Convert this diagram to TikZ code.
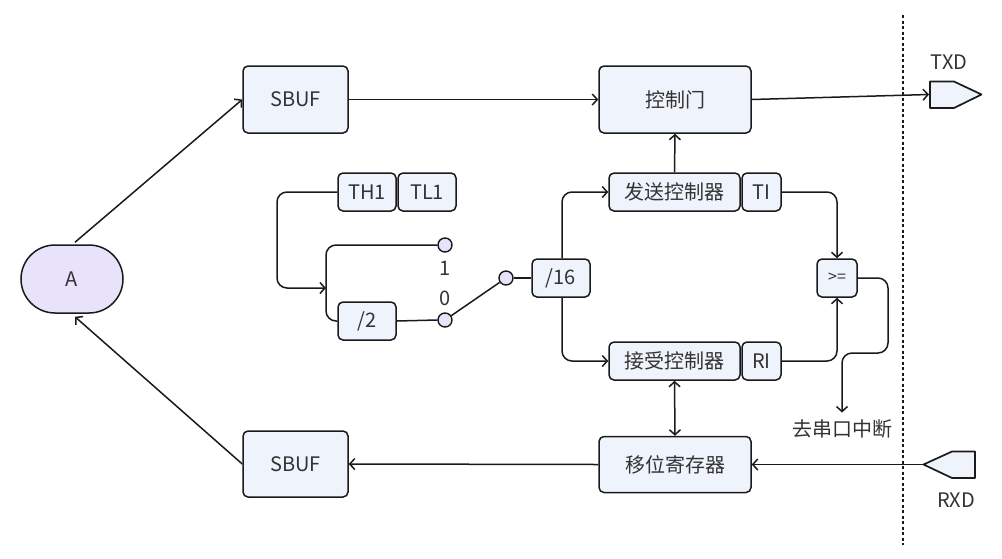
\documentclass[tikz,border=0pt]{standalone}
\usepackage{fontspec}
\setmainfont{Noto Sans CJK SC}
\usetikzlibrary{arrows.meta,calc}
\definecolor{boxc}{HTML}{EEF3FC}
\definecolor{lavc}{HTML}{E8E2FA}
\definecolor{linec}{HTML}{1A1A1A}
\definecolor{txtc}{HTML}{333333}
\tikzset{
  box/.style={draw=linec, fill=boxc, rounded corners=5pt, line width=1.5pt, inner sep=0pt, text=txtc, font=\fontsize{20}{23}\selectfont},
  dot/.style={circle, draw=linec, fill=lavc, line width=1.4pt, minimum size=14pt, inner sep=0pt},
  lbl/.style={text=txtc, font=\fontsize{20}{23}\selectfont, inner sep=1pt},
  conn/.style={draw=linec, line width=1.5pt, rounded corners=10pt},
  arr/.style={conn, -{Straight Barb[length=5pt,width=11pt,line width=1.5pt]}},
  darr/.style={conn, {Straight Barb[length=5pt,width=11pt,line width=1.5pt]}-{Straight Barb[length=5pt,width=11pt,line width=1.5pt]}},
}
\begin{document}
\begin{tikzpicture}[x=1pt,y=-1pt]
\useasboundingbox (0,0) rectangle (1002,558);
% dotted boundary
\draw[linec, line width=1.8pt, dash pattern=on 3pt off 2.5pt] (903,15) -- (903,545);
% nodes
\node[box, fill=lavc, rounded corners=34pt, minimum width=102pt, minimum height=68pt] (A) at (72,279) {A};
\node[box, minimum width=105pt, minimum height=67pt] (sbuf1) at (295.5,99.5) {SBUF};
\node[box, minimum width=152pt, minimum height=67pt] (gate) at (675,99.5) {控制门};
\node[box, minimum width=131pt, minimum height=38pt] (send) at (674.5,192) {发送控制器};
\node[box, minimum width=39pt, minimum height=38pt] (ti) at (761.5,192) {TI};
\node[box, minimum width=131pt, minimum height=38pt] (recv) at (674.5,361) {接受控制器};
\node[box, minimum width=39pt, minimum height=38pt] (ri) at (761.5,361) {RI};
\node[box, minimum width=40pt, minimum height=38pt, font=\fontsize{16}{19}\selectfont] (ge) at (837,278) {>=};
\node[box, minimum width=152pt, minimum height=56pt] (shift) at (675,464.5) {移位寄存器};
\node[box, minimum width=105pt, minimum height=66pt] (sbuf2) at (295.5,464) {SBUF};
\node[box, minimum width=58pt, minimum height=38pt] (th1) at (367,192) {TH1};
\node[box, minimum width=58pt, minimum height=38pt] (tl1) at (427,192) {TL1};
\node[box, minimum width=58pt, minimum height=38pt] (div2) at (367,321) {/2};
\node[box, minimum width=58pt, minimum height=38pt] (div16) at (561,278) {/16};
\node[dot] (c1) at (445,245) {};
\node[dot] (c0) at (445,320) {};
\node[dot] (cm) at (506,278) {};
\node[lbl] (l1) at (445,268) {1};
\node[lbl] (l0) at (445,298) {0};
\node[lbl] (irq) at (842,429) {去串口中断};
\node[lbl] (txdl) at (949,62) {TXD};
\node[lbl] (rxdl) at (956,500) {RXD};
% TXD / RXD pins
\draw[draw=linec, fill=boxc, line width=1.7pt, line join=round] (930,81.5) -- (954,81.5) -- (981.5,94.5) -- (954,108) -- (930,108) -- cycle;
\coordinate (txd) at (929,94.5);
\draw[draw=linec, fill=boxc, line width=1.7pt, line join=round] (975,451.5) -- (952,451.5) -- (923.5,464.5) -- (952,478) -- (975,478) -- cycle;
\coordinate (rxd) at (922.5,464.5);
% connectors
\draw[arr] (A.north) ++(3,-2) -- (sbuf1.west);
\draw[arr] (sbuf2.west) -- ($(A.south)+(3,3)$);
\draw[arr] (sbuf1.east) -- (gate.west);
\draw[arr] (gate.east) -- (txd);
\draw[arr] (send.north) -- (gate.south);
\coordinate (j1) at (326,288);
\draw[arr] (th1.west) -| (277,250) |- (j1);
\draw[conn] (c1.west) -| (326,280) |- (div2.west);
\draw[conn] (div2.east) -- (c0.west);
\draw[conn] (c0) -- (cm);
\draw[conn] (cm.east) -- (div16.west);
\draw[arr] (div16.north) ++(1,0) |- (send.west);
\draw[arr] (div16.south) ++(1,0) |- (recv.west);
\draw[arr] (ti.east) -| (ge.north);
\draw[arr] (ri.east) -| (ge.south);
\draw[arr, shorten >=6pt] (ge.east) -- (888,278) -- (888,353) -- (842,353) -- (irq.north);
\draw[darr] (recv.south) -- (shift.north);
\draw[arr] (rxd) -- (shift.east);
\draw[arr] (shift.west) -- (sbuf2.east);
\end{tikzpicture}
\end{document}
